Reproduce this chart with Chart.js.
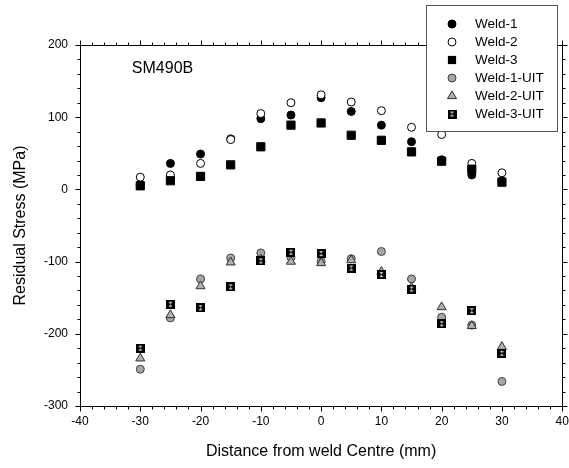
<!DOCTYPE html>
<html><head><meta charset="utf-8">
<script src="https://cdn.jsdelivr.net/npm/chart.js@4/dist/chart.umd.min.js"></script>
<style>html,body{margin:0;padding:0;background:#fff;}#wrap{width:569px;height:468px;}</style>
</head><body><div id="wrap"><canvas id="c" width="569" height="468"></canvas></div>
<script>
// ---- data ----
const distances = [-30, -25, -20, -15, -10, -5, 0, 5, 10, 15, 20, 25, 30];
const weld1    = [7, 36, 49, 70, 98, 103, 127, 108, 89, 66, 41, 20, 12];
const weld2    = [17, 20, 36, 69, 105, 120, 131, 121, 109, 86, 76, 36, 23];
const weld3    = [5, 12, 18, 34, 59, 89, 92, 75, 68, 52, 39, 28, 10];
const weld1UIT = [-249, -178, -124, -95, -88, -94, -100, -96, -86, -124, -177, -188, -266];
const weld2UIT = [-234, -174, -134, -101, -97, -100, -102, -98, -114, -136, -163, -189, -218];
const weld3UIT = [-220, -159, -164, -135, -99, -87, -89, -109, -118, -138, -186, -168, -227];
const seriesNames = ['Weld-1', 'Weld-2', 'Weld-3', 'Weld-1-UIT', 'Weld-2-UIT', 'Weld-3-UIT'];
const xRange = [-40, 40];
const yRange = [-300, 200];
const annotation = 'SM490B';

const FONT = "'Liberation Sans', Arial, sans-serif";

function makeHourglass() {
  const c = document.createElement('canvas');
  c.width = 9; c.height = 9;
  const g = c.getContext('2d');
  g.fillStyle = '#000'; g.fillRect(0, 0, 9, 9);
  g.fillStyle = '#d8d8d8';
  g.beginPath(); g.moveTo(2.5, 2); g.lineTo(6.5, 2); g.lineTo(4.5, 4.3); g.closePath(); g.fill();
  g.beginPath(); g.moveTo(2.5, 7); g.lineTo(6.5, 7); g.lineTo(4.5, 4.7); g.closePath(); g.fill();
  return c;
}
const hourglass = makeHourglass();

const styles = [
  {pointStyle: 'circle', radius: 4, bg: '#000', border: '#000'},
  {pointStyle: 'circle', radius: 4, bg: '#fff', border: '#000'},
  {pointStyle: 'rect', radius: 5.8, bg: '#000', border: '#000'},
  {pointStyle: 'circle', radius: 4, bg: '#a6a6a6', border: '#404040'},
  {pointStyle: 'triangle', radius: 5.2, bg: '#b0b0b0', border: '#303030'},
  {pointStyle: hourglass, radius: 4.5, bg: '#000', border: '#000'}
];
const seriesValues = [weld1, weld2, weld3, weld1UIT, weld2UIT, weld3UIT];

const datasets = seriesValues.map((vals, i) => ({
  label: seriesNames[i],
  data: distances.map((d, k) => ({x: d, y: vals[k]})),
  showLine: false,
  pointStyle: styles[i].pointStyle,
  pointRadius: styles[i].radius,
  pointBackgroundColor: styles[i].bg,
  pointBorderColor: styles[i].border,
  pointBorderWidth: 1,
  order: seriesNames.length - i
}));

function drawMarker(ctx, st, x, y) {
  ctx.save();
  ctx.fillStyle = st.bg; ctx.strokeStyle = st.border; ctx.lineWidth = 1;
  if (st.pointStyle === 'circle') {
    ctx.beginPath(); ctx.arc(x, y, st.radius, 0, Math.PI * 2); ctx.fill(); ctx.stroke();
  } else if (st.pointStyle === 'rect') {
    const s = st.radius / Math.SQRT2;
    ctx.fillRect(x - s, y - s, 2 * s, 2 * s);
  } else if (st.pointStyle === 'triangle') {
    const r = st.radius;
    ctx.beginPath();
    ctx.moveTo(x, y - r);
    ctx.lineTo(x + r * Math.cos(Math.PI / 6), y + r / 2);
    ctx.lineTo(x - r * Math.cos(Math.PI / 6), y + r / 2);
    ctx.closePath(); ctx.fill(); ctx.stroke();
  } else {
    ctx.drawImage(st.pointStyle, x - st.pointStyle.width / 2, y - st.pointStyle.height / 2);
  }
  ctx.restore();
}

const framePlugin = {
  id: 'frame',
  beforeDatasetsDraw(chart) {
    const ctx = chart.ctx, a = chart.chartArea;
    const xs = chart.scales.x, ys = chart.scales.y;
    ctx.save();
    ctx.strokeStyle = '#000'; ctx.lineWidth = 1;
    const L = Math.round(a.left) + 0.5, R = Math.round(a.right) + 0.5;
    const T = Math.round(a.top) + 0.5, B = Math.round(a.bottom) + 0.5;
    ctx.strokeRect(L, T, R - L, B - T);
    ctx.beginPath();
    for (let v = xRange[0]; v <= xRange[1]; v += 2) {
      const p = Math.round(xs.getPixelForValue(v)) + 0.5;
      const len = (v % 10 === 0) ? 5 : 3;
      ctx.moveTo(p, B); ctx.lineTo(p, B + len);
      ctx.moveTo(p, T); ctx.lineTo(p, T - len);
    }
    for (let v = yRange[0]; v <= yRange[1]; v += 20) {
      const p = Math.round(ys.getPixelForValue(v)) + 0.5;
      const len = (v % 100 === 0) ? 5 : 3;
      ctx.moveTo(L, p); ctx.lineTo(L - len, p);
      ctx.moveTo(R, p); ctx.lineTo(R + len, p);
    }
    ctx.stroke();
    // annotation
    ctx.fillStyle = '#000';
    ctx.font = '16px ' + FONT;
    ctx.textAlign = 'left'; ctx.textBaseline = 'middle';
    ctx.fillText(annotation, xs.getPixelForValue(-31.4), ys.getPixelForValue(168));
    ctx.restore();
  },
  afterDatasetsDraw(chart) {
    const ctx = chart.ctx;
    ctx.save();
    const bx = 426.5, by = 5.5, bw = 131, bh = 126;
    ctx.fillStyle = '#fff'; ctx.fillRect(bx, by, bw, bh);
    ctx.strokeStyle = '#555'; ctx.lineWidth = 1; ctx.strokeRect(bx, by, bw, bh);
    ctx.font = '13.5px ' + FONT; ctx.fillStyle = '#000';
    ctx.textAlign = 'left'; ctx.textBaseline = 'middle';
    seriesNames.forEach((name, i) => {
      const y = 24 + i * 18;
      drawMarker(ctx, styles[i], 452, y);
      ctx.fillStyle = '#000';
      ctx.fillText(name, 475, y + 0.5);
    });
    ctx.restore();
  }
};

new Chart(document.getElementById('c'), {
  type: 'scatter',
  data: {datasets},
  options: {
    responsive: false,
    animation: false,
    devicePixelRatio: 1,
    layout: {padding: {top: 45, right: 6, left: 0, bottom: 0}},
    plugins: {legend: {display: false}, tooltip: {enabled: false}},
    scales: {
      x: {
        type: 'linear', min: xRange[0], max: xRange[1],
        ticks: {stepSize: 10, padding: 8, color: '#000', font: {family: FONT, size: 12}, maxRotation: 0, autoSkip: false},
        grid: {display: false, drawTicks: false},
        border: {display: false},
        title: {display: true, text: 'Distance from weld Centre (mm)', color: '#000', font: {family: FONT, size: 16}, padding: {top: 0, bottom: 6.5}},
        afterFit(s) { s.height = 62; s.paddingLeft = 0; s.paddingRight = 0; }
      },
      y: {
        type: 'linear', min: yRange[0], max: yRange[1],
        ticks: {stepSize: 100, padding: 12, color: '#000', font: {family: FONT, size: 12}},
        grid: {display: false, drawTicks: false},
        border: {display: false},
        title: {display: true, text: 'Residual Stress (MPa)', color: '#000', font: {family: FONT, size: 16}, padding: {top: 10.5, bottom: 0}},
        afterFit(s) { s.width = 80; s.paddingTop = 0; s.paddingBottom = 0; }
      }
    }
  },
  plugins: [framePlugin]
});
</script>
</body></html>
